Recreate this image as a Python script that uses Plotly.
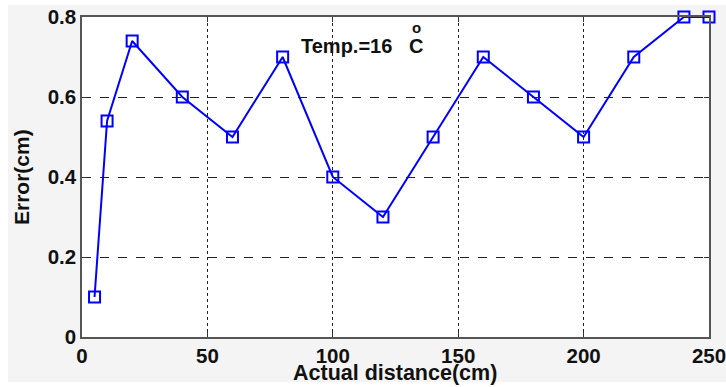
import plotly.graph_objects as go

distance = [5, 10, 20, 40, 60, 80, 100, 120, 140, 160, 180, 200, 220, 240, 250]
error = [0.10, 0.54, 0.74, 0.60, 0.50, 0.70, 0.40, 0.30, 0.50, 0.70, 0.60, 0.50, 0.70, 0.80, 0.80]

x_ticks = [0, 50, 100, 150, 200, 250]
x_labels = ["0", "50", "100", "150", "200", "250"]
y_ticks = [0, 0.2, 0.4, 0.6, 0.8]
y_labels = ["0", "0.2", "0.4", "0.6", "0.8"]

FONT = "Liberation Sans, Arial, sans-serif"
L, R, T, B = 82, 17, 17, 50

fig = go.Figure()
fig.add_trace(go.Scatter(
    x=distance, y=error, mode="lines+markers",
    line=dict(color="#0000ff", width=2),
    marker=dict(symbol="square-open", size=11, color="#0000ff", line=dict(width=2, color="#0000ff")),
    showlegend=False, hoverinfo="x+y", cliponaxis=False,
))

axis_common = dict(
    showline=True, mirror="ticks", linecolor="#555555", linewidth=1.5,
    ticks="inside", ticklen=5, tickwidth=1, tickcolor="#333333",
    showgrid=True, gridcolor="#222222", gridwidth=1,
    zeroline=False, automargin=False, ticklabeloverflow="allow",
    tickfont=dict(family=FONT, size=20.5, color="#111111", weight="bold"),
)

fig.update_xaxes(range=[0, 250], tickvals=x_ticks, ticktext=x_labels, griddash="dot",
                 ticklabelstandoff=0, **axis_common)
fig.update_yaxes(range=[0, 0.8], tickvals=y_ticks, ticktext=y_labels, griddash="dash",
                 ticklabelstandoff=0, **axis_common)

pw = 726 - L - R
ph = 387 - T - B

def px(xp):
    return (xp - L) / pw

def py(yp):
    return (387 - B - yp) / ph

fig.add_annotation(text="Actual distance(cm)", xref="paper", yref="paper", x=px(395), y=py(373),
                   xanchor="center", yanchor="middle", showarrow=False, borderpad=0,
                   font=dict(family=FONT, size=21.5, color="#111111", weight="bold"))
fig.add_annotation(text="Error(cm)", xref="paper", yref="paper", x=px(21), y=py(177),
                   xanchor="center", yanchor="middle", showarrow=False, textangle=-90,
                   font=dict(family=FONT, size=21, color="#111111", weight="bold"))

ann_font = dict(family=FONT, size=20, color="#111111", weight="bold")
fig.add_annotation(text="Temp.=16", xref="paper", yref="paper", x=px(300), y=py(46),
                   xanchor="left", yanchor="middle", showarrow=False, font=ann_font, borderpad=0)
fig.add_annotation(text="C", xref="paper", yref="paper", x=px(408), y=py(46),
                   xanchor="left", yanchor="middle", showarrow=False, font=ann_font, borderpad=0)
fig.add_annotation(text="o", xref="paper", yref="paper", x=px(416), y=py(27),
                   xanchor="center", yanchor="middle", showarrow=False, borderpad=0,
                   font=dict(family=FONT, size=15, color="#111111", weight="bold"))

# white border strips around the grey figure background
for (x0, x1, y0, y1) in [(0, 726, 0, 5), (0, 8, 0, 387), (0, 726, 382, 387)]:
    fig.add_shape(type="rect", xref="paper", yref="paper",
                  x0=px(x0), x1=px(x1), y0=py(y1), y1=py(y0),
                  fillcolor="white", line=dict(width=0), layer="below")

fig.update_layout(
    width=726, height=387,
    margin=dict(l=L, r=R, t=T, b=B, autoexpand=False),
    paper_bgcolor="#f4f4f4", plot_bgcolor="white",
)

fig.write_html("out.html", config={"displayModeBar": False},
               post_script="document.body.style.margin='0';document.body.style.overflow='hidden';")
